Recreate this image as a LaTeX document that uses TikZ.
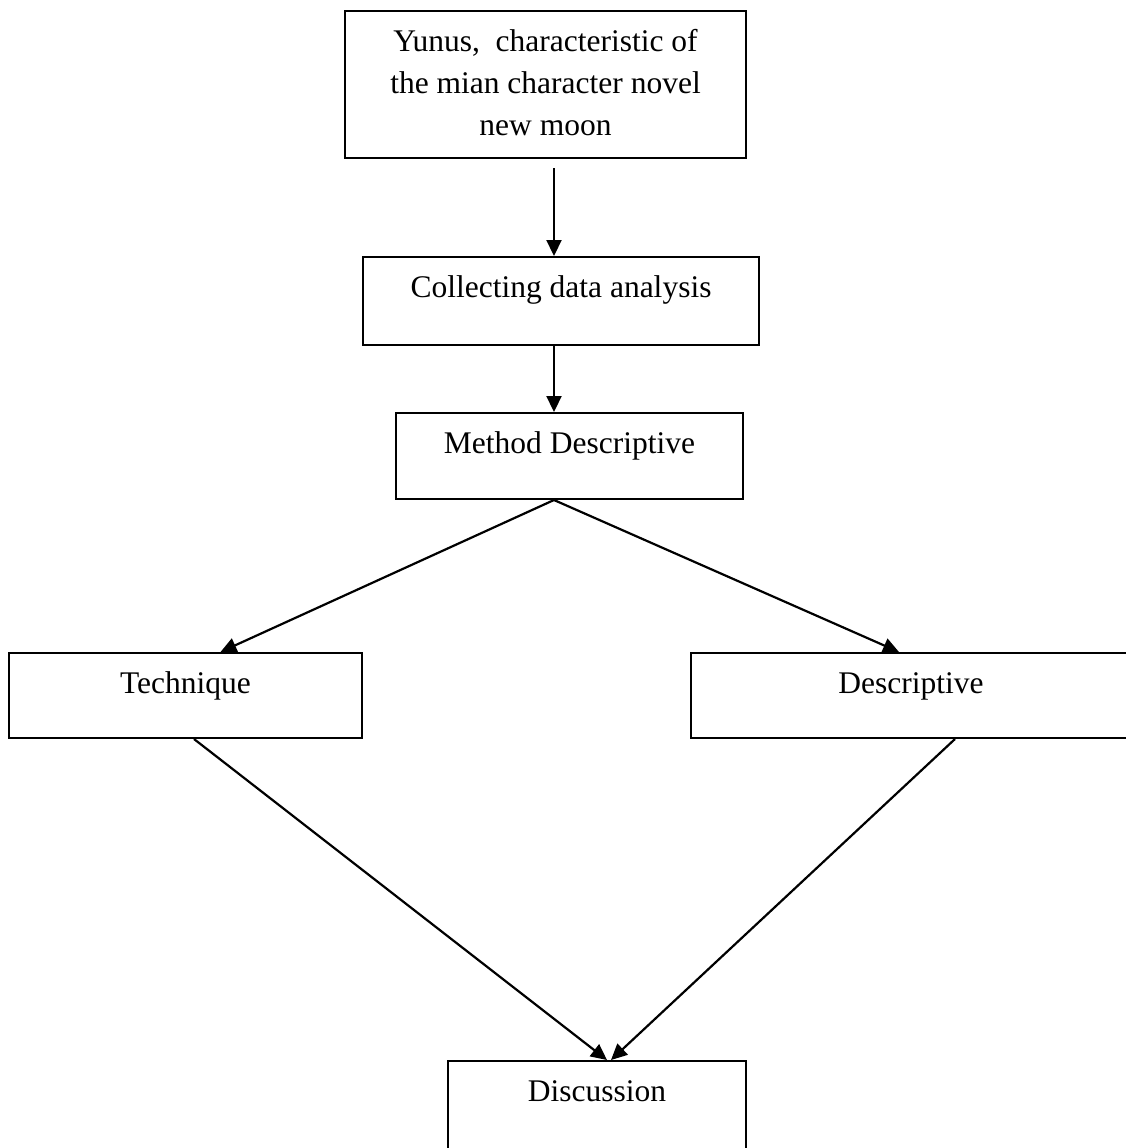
\documentclass[tikz,border=0pt]{standalone}
\usepackage{fontspec}
\setmainfont{Liberation Serif}
\usetikzlibrary{arrows.meta,calc}
\tikzset{
  box/.style={draw, line width=1pt, inner sep=0pt, anchor=north west, text height=20pt},
  arr/.style={line width=1.1pt, -{Triangle[length=8pt,width=7.5pt]}}
}
\begin{document}
\begin{tikzpicture}[x=0.5pt,y=-0.5pt,font=\fontsize{15.75}{21}\selectfont]
    \useasboundingbox (0,0) rectangle (1126,1148);
    % boxes, placed by their top left corners
    \node[box, minimum width=200.5pt, text depth=53.5pt] (yunus) at (344,10)
        {\parbox[t]{200pt}{\centering Yunus,~ characteristic of\\ the mian character novel\\ new moon}};
    \node[box, minimum width=198pt, text depth=24pt] (collect) at (362,256) {Collecting data analysis};
    \node[box, minimum width=173.5pt, text depth=23pt] (method) at (395,412) {Method Descriptive};
    \node[box, minimum width=176.5pt, text depth=22.5pt] (tech) at (8,652) {Technique};
    \node[box, minimum width=220pt, text depth=22.5pt] (desc) at (690,652) {Descriptive};
    \node[box, minimum width=149pt, text depth=25pt] (disc) at (447,1060) {Discussion};
    % arrows
    \coordinate (mid) at (554,0);
    \draw[arr] ($(yunus.south -| mid)+(0,9)$) -- (collect.north -| mid);
    \draw[arr] (collect.south -| mid) -- (method.north -| mid);
    \draw[arr] (method.south -| mid) -- ($(tech.north)+(35,0)$);
    \draw[arr] (method.south -| mid) -- ($(desc.north)+(-12,0)$);
    \draw[arr] ($(tech.south)+(8.5,0)$) -- ($(disc.north)+(10,0)$);
    \draw[arr] ($(desc.south)+(44,0)$) -- ($(disc.north)+(14,0)$);
\end{tikzpicture}
\end{document}
